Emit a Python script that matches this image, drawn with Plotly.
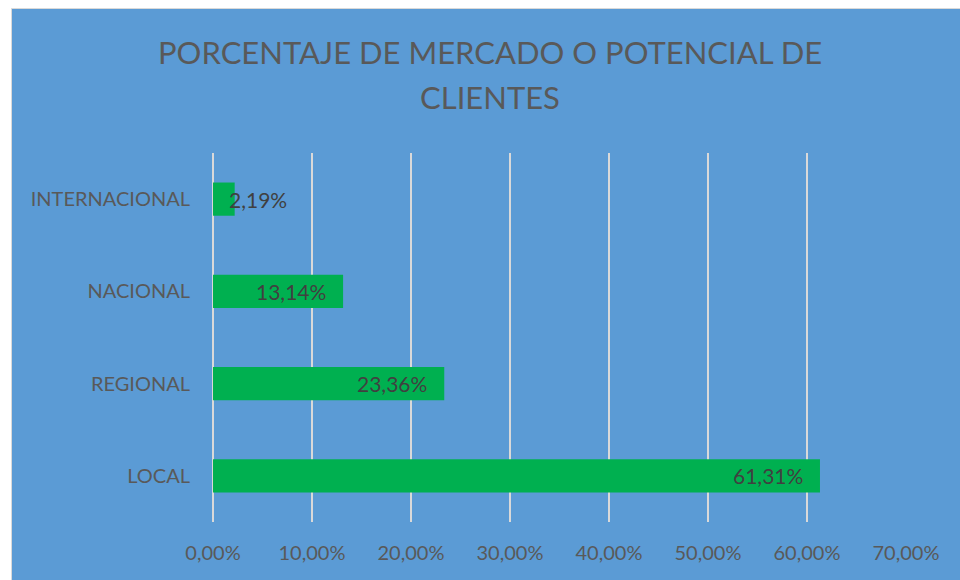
import plotly.graph_objects as go

categories = ["LOCAL", "REGIONAL", "NACIONAL", "INTERNACIONAL"]
values = [61.31, 23.36, 13.14, 2.19]
value_labels = ["61,31%", "23,36%", "13,14%", "2,19%"]
x_ticks = [0, 10, 20, 30, 40, 50, 60, 70]
x_tick_labels = ["0,00%", "10,00%", "20,00%", "30,00%", "40,00%", "50,00%", "60,00%", "70,00%"]
title_lines = ["PORCENTAJE DE MERCADO O POTENCIAL DE", "CLIENTES"]

FONT = "Lato"
BLUE = "#5B9BD5"
GREEN = "#00B050"
GRID = "#D9D9D9"
GRAY = "#595959"
DARK = "#404040"

fig = go.Figure()
fig.add_trace(go.Bar(
    x=values, y=categories, orientation="h",
    marker=dict(color=GREEN, line=dict(width=0)),
    hoverinfo="skip",
))

# page body margin is removed below, so figure pixels == screen pixels
W, H = 960, 580
L, T = 213, 153
R, B = W - 906, H - 522
pw, ph = W - L - R, H - T - B


def px_x(px):
    return (px - L) / pw


def px_y(py):
    return (H - B - py) / ph


fig.add_shape(type="rect", xref="paper", yref="paper",
              x0=px_x(11.5), x1=px_x(W + 10),
              y0=px_y(H + 10), y1=px_y(8.5),
              fillcolor=BLUE, line=dict(color=GRID, width=1), layer="below")

annotations = []
annotations.append(dict(x=px_x(490), y=px_y(52), xref="paper", yref="paper", text=title_lines[0],
                        xanchor="center", yanchor="middle", showarrow=False,
                        font=dict(family=FONT, size=31, color=GRAY)))
annotations.append(dict(x=px_x(490), y=px_y(97), xref="paper", yref="paper", text=title_lines[1],
                        xanchor="center", yanchor="middle", showarrow=False,
                        font=dict(family=FONT, size=31, color=GRAY)))

for cat, v, lab in zip(categories, values, value_labels):
    if v < 8:
        annotations.append(dict(x=0, y=cat, text=lab, xanchor="left", xshift=14,
                                showarrow=False, font=dict(family=FONT, size=21, color=DARK)))
    else:
        annotations.append(dict(x=v, y=cat, text=lab, xanchor="right", xshift=-15,
                                showarrow=False, font=dict(family=FONT, size=21, color=DARK)))

fig.update_layout(
    width=W, height=H,
    margin=dict(l=L, r=R, t=T, b=B),
    paper_bgcolor="white",
    plot_bgcolor="rgba(0,0,0,0)",
    bargap=0.64,
    showlegend=False,
    xaxis=dict(range=[0, 70], tickvals=x_ticks, ticktext=x_tick_labels,
               showgrid=True, gridcolor=GRID, gridwidth=2, zeroline=True,
               zerolinecolor=GRID, zerolinewidth=2, showline=False,
               tickfont=dict(family=FONT, size=20, color=GRAY), ticklabelstandoff=17,
               fixedrange=True),
    yaxis=dict(showgrid=False, zeroline=False, showline=False,
               tickfont=dict(family=FONT, size=20, color=GRAY), ticklabelstandoff=22,
               fixedrange=True),
    annotations=annotations,
)

fig.write_html("out.html",
               config={"displayModeBar": False, "staticPlot": True},
               post_script="document.body.style.margin='0';"
                           "document.documentElement.style.overflow='hidden';")
